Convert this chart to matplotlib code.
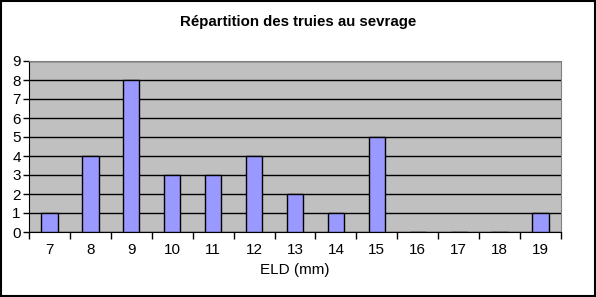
import matplotlib
matplotlib.use("Agg")
import matplotlib.pyplot as plt
import numpy as np

# Donnees
eld = ["7", "8", "9", "10", "11", "12", "13", "14", "15", "16", "17", "18", "19"]
truies = [1, 4, 8, 3, 3, 4, 2, 1, 5, 0, 0, 0, 1]

plt.rcParams['font.family'] = ['Liberation Sans', 'DejaVu Sans']

fig = plt.figure(figsize=(5.96, 2.97), dpi=100)
ax = fig.add_axes([29 / 596, 1 - 232 / 297, (561 - 29) / 596, (232 - 61) / 297])
ax.set_facecolor("#C0C0C0")

x = np.arange(len(eld))
ax.bar(x, truies, width=0.4, color="#9999FF", edgecolor="black", linewidth=1, zorder=3)

ax.set_xlim(-0.5, len(eld) - 0.5)
ax.set_ylim(0, 9)
ax.set_yticks(range(0, 10))
ax.yaxis.grid(True, color="black", linewidth=1, zorder=1)
ax.set_axisbelow(True)

# ticks aux limites des categories, etiquettes au centre
ax.set_xticks(np.arange(-0.5, len(eld), 1))
ax.set_xticklabels([])
ax.set_xticks(x, minor=True)
ax.set_xticklabels(eld, minor=True)
ax.tick_params(axis="x", which="major", direction="out", length=5, width=1)
ax.tick_params(axis="x", which="minor", length=0, pad=8, labelsize=11)
ax.tick_params(axis="y", direction="out", length=4, width=1, pad=2, labelsize=11)

for s in ["top", "right"]:
    ax.spines[s].set_color("#808080")
for s in ["left", "bottom"]:
    ax.spines[s].set_color("black")

ax.set_xlabel("ELD (mm)", fontsize=11, labelpad=4)
fig.text(0.5, 1 - 22 / 297, "Répartition des truies au sevrage", ha="center", va="center",
         fontsize=10.8, fontweight="bold")

# cadre noir autour du graphique
fig.patches.append(plt.Rectangle((0.001, 0.002), 0.997, 0.996, transform=fig.transFigure,
                                 fill=False, edgecolor="black", linewidth=1.5))

fig.savefig("out.png", dpi=100)
